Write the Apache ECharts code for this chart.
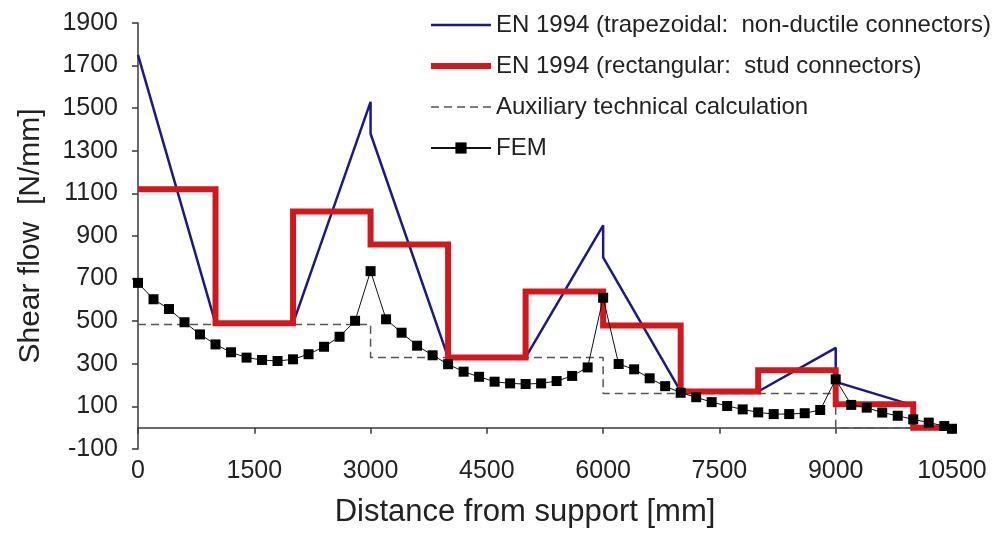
<!DOCTYPE html>
<html>
<head>
<meta charset="utf-8">
<script src="https://cdn.jsdelivr.net/npm/echarts@6/dist/echarts.min.js"></script>
<style>
  html, body { margin: 0; padding: 0; background: #fff; }
  #chart { width: 1004px; height: 533px; }
</style>
</head>
<body>
<div id="chart"></div>
<script>
// Shear flow along the beam: design models vs. FEM
const trapDistance = [0, 1000, 2000, 3000, 3000, 4000, 5000, 6000, 6000, 7000, 8000, 9000, 9000, 10000];
const trapShear    = [1750, 490, 490, 1530, 1380, 330, 330, 950, 800, 170, 170, 375, 215, 105];

const rectDistance = [0, 1000, 1000, 2000, 2000, 3000, 3000, 4000, 4000, 5000, 5000, 6000, 6000, 7000, 7000, 8000, 8000, 9000, 9000, 10000, 10000, 10500];
const rectShear    = [1120, 1120, 490, 490, 1015, 1015, 860, 860, 330, 330, 640, 640, 480, 480, 170, 170, 270, 270, 110, 110, 0, 0];

const auxDistance = [0, 3000, 3000, 6000, 6000, 9000, 9000, 10500];
const auxShear    = [485, 485, 330, 330, 160, 160, 0, 0];

const femDistance = [0, 200, 400, 600, 800, 1000, 1200, 1400, 1600, 1800, 2000, 2200, 2400, 2600, 2800, 3000,
  3200, 3400, 3600, 3800, 4000, 4200, 4400, 4600, 4800, 5000, 5200, 5400, 5600, 5800, 6000,
  6200, 6400, 6600, 6800, 7000, 7200, 7400, 7600, 7800, 8000, 8200, 8400, 8600, 8800, 9000,
  9200, 9400, 9600, 9800, 10000, 10200, 10400, 10500];
const femShear = [680, 603, 557, 495, 438, 391, 354, 329, 318, 313, 321, 345, 380, 427, 502, 735,
  509, 446, 385, 340, 298, 263, 239, 216, 208, 205, 208, 219, 243, 283, 610,
  299, 274, 232, 195, 164, 143, 120, 102, 86, 72, 64, 64, 68, 83, 227,
  107, 94, 71, 56, 39, 24, 8, -5];

const xTicks = [0, 1500, 3000, 4500, 6000, 7500, 9000, 10500];
const yTicks = [-100, 100, 300, 500, 700, 900, 1100, 1300, 1500, 1700, 1900];

const seriesNames = [
  'EN 1994 (trapezoidal:  non-ductile connectors)',
  'EN 1994 (rectangular:  stud connectors)',
  'Auxiliary technical calculation',
  'FEM'
];

const BLUE = '#1c1a80';
const RED = '#d0181d';
const GREY = '#555';

const pairs = (xs, ys) => xs.map((x, i) => [x, ys[i]]);
const plain = v => String(v);

const FONT = 'Liberation Sans, Arial, sans-serif';
const AXIS_COLOR = '#3a3a3a';
const TEXT_COLOR = '#222';

const chart = echarts.init(document.getElementById('chart'), null, { renderer: 'canvas' });

chart.setOption({
  animation: false,
  backgroundColor: '#fff',
  textStyle: { fontFamily: FONT },
  grid: { left: 138, right: 52, top: 23, bottom: 84 },
  legend: {
    orient: 'vertical',
    left: 423,
    top: 8,
    itemWidth: 60,
    itemHeight: 14,
    itemGap: 17,
    data: [
      { name: seriesNames[0], itemStyle: { opacity: 0 }, lineStyle: { color: BLUE, width: 2.5 } },
      { name: seriesNames[1], itemStyle: { opacity: 0 }, lineStyle: { color: RED, width: 6 } },
      { name: seriesNames[2], itemStyle: { opacity: 0 }, lineStyle: { color: GREY, width: 1.5, type: [8, 5] } },
      { name: seriesNames[3] }
    ],
    textStyle: { fontFamily: FONT, fontSize: 24, color: TEXT_COLOR }
  },
  xAxis: [
    {
      type: 'value',
      min: xTicks[0],
      max: xTicks[xTicks.length - 1],
      interval: 1500,
      axisLine: { onZero: true, lineStyle: { color: AXIS_COLOR, width: 1.5 } },
      axisTick: { show: true, inside: false, length: 6, lineStyle: { color: AXIS_COLOR, width: 1.5 } },
      axisLabel: { show: false },
      splitLine: { show: false }
    },
    {
      type: 'value',
      position: 'bottom',
      min: xTicks[0],
      max: xTicks[xTicks.length - 1],
      interval: 1500,
      axisLine: { show: false, onZero: false },
      axisTick: { show: false },
      splitLine: { show: false },
      axisLabel: { show: true, margin: 10, formatter: plain, fontFamily: FONT, fontSize: 25, color: TEXT_COLOR },
      name: 'Distance from support [mm]',
      nameLocation: 'middle',
      nameGap: 48,
      nameTextStyle: { fontFamily: FONT, fontSize: 31, color: TEXT_COLOR, padding: [0, 40, 0, 0] }
    }
  ],
  yAxis: {
    type: 'value',
    min: yTicks[0],
    max: yTicks[yTicks.length - 1],
    axisLine: { show: true, onZero: false, lineStyle: { color: AXIS_COLOR, width: 1.5 } },
    axisTick: { show: true, inside: false, length: 6, customValues: yTicks, lineStyle: { color: AXIS_COLOR, width: 1.5 } },
    axisLabel: { show: true, margin: 20, customValues: yTicks, formatter: plain, fontFamily: FONT, fontSize: 25, color: TEXT_COLOR },
    splitLine: { show: false },
    name: 'Shear flow  [N/mm]',
    nameLocation: 'middle',
    nameGap: 92,
    nameTextStyle: { fontFamily: FONT, fontSize: 30, color: TEXT_COLOR }
  },
  series: [
    {
      name: seriesNames[2],
      type: 'line',
      xAxisIndex: 0,
      data: pairs(auxDistance, auxShear),
      symbol: 'none',
      lineStyle: { color: GREY, width: 1.5, type: [8, 5] },
      itemStyle: { color: GREY },
      z: 2
    },
    {
      name: seriesNames[0],
      type: 'line',
      xAxisIndex: 0,
      data: pairs(trapDistance, trapShear),
      symbol: 'none',
      lineStyle: { color: BLUE, width: 2.5 },
      itemStyle: { color: BLUE },
      z: 3
    },
    {
      name: seriesNames[1],
      type: 'line',
      xAxisIndex: 0,
      data: pairs(rectDistance, rectShear),
      symbol: 'none',
      lineStyle: { color: RED, width: 6, join: 'miter' },
      itemStyle: { color: RED },
      z: 4
    },
    {
      name: seriesNames[3],
      type: 'line',
      xAxisIndex: 0,
      data: pairs(femDistance, femShear),
      symbol: 'rect',
      symbolSize: 10,
      showAllSymbol: true,
      lineStyle: { color: '#111', width: 1 },
      itemStyle: { color: '#000' },
      z: 5
    }
  ]
});
</script>
</body>
</html>
